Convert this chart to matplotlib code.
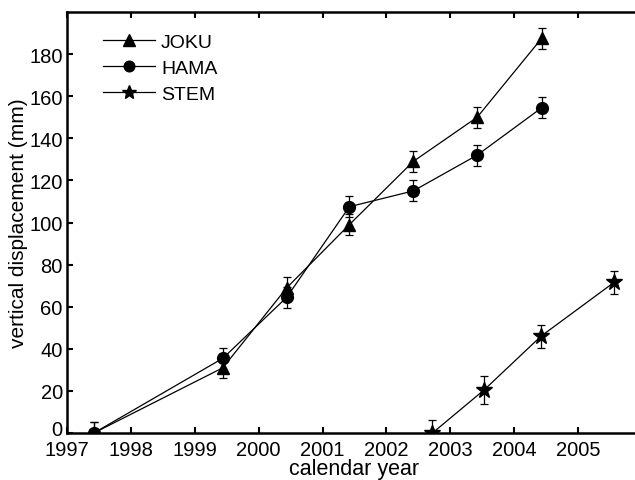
import matplotlib
matplotlib.use("Agg")
import matplotlib.pyplot as plt
from matplotlib.transforms import ScaledTranslation

plt.rcParams['font.family'] = ['Liberation Sans', 'DejaVu Sans']

# survey epochs (decimal year) and vertical displacement (mm) per station
joku_year = [1997.42, 1999.44, 2000.44, 2001.42, 2002.42, 2003.42, 2004.43]
joku_disp = [0, 31, 69, 99, 129, 150, 187.5]
joku_err = [5, 5, 5, 5, 5, 5, 5]

hama_year = [1997.42, 1999.44, 2000.44, 2001.42, 2002.42, 2003.42, 2004.43]
hama_disp = [0, 35.5, 64.5, 107.5, 115, 132, 154.5]
hama_err = [5, 5, 5, 5, 5, 5, 5]

stem_year = [2002.72, 2003.53, 2004.42, 2005.56]
stem_disp = [0, 20.5, 46, 71.5]
stem_err = [6, 6.5, 5.5, 5.5]

year_ticks = [1997, 1998, 1999, 2000, 2001, 2002, 2003, 2004, 2005]
disp_ticks = [0, 20, 40, 60, 80, 100, 120, 140, 160, 180]

fig = plt.figure(figsize=(6.35, 4.81), dpi=100)
ax = fig.add_axes([67 / 635, 47 / 481, 575 / 635, 421 / 481])

err_kw = dict(color='black', lw=0.9, capsize=3.2, elinewidth=0.9, capthick=0.9)
ax.errorbar(hama_year, hama_disp, yerr=hama_err, marker='o', ms=8.5, label='HAMA', zorder=2, **err_kw)
ax.errorbar(joku_year, joku_disp, yerr=joku_err, marker='^', ms=9, label='JOKU', zorder=3, **err_kw)
ax.errorbar(stem_year, stem_disp, yerr=stem_err, marker='*', ms=12, label='STEM', zorder=3, **err_kw)

ax.set_xlim(1997, 2006)
ax.set_ylim(0, 200)
ax.set_xticks(year_ticks)
ax.set_yticks(disp_ticks)
ax.tick_params(direction='in', length=4, width=1.5, labelsize=14.5, top=True, right=False)
ax.tick_params(axis='y', pad=3)
ax.tick_params(axis='x', pad=5)
for s in ax.spines.values():
    s.set_linewidth(1.8)
ax.spines['right'].set_visible(False)

# the "0" label sits a bit higher, clear of "1997"
zero_lbl = ax.yaxis.get_major_ticks()[0].label1
zero_lbl.set_transform(zero_lbl.get_transform() + ScaledTranslation(0, 5 / 100, fig.dpi_scale_trans))

ax.set_xlabel('calendar year', fontsize=15.5, labelpad=-1)
ax.set_ylabel('vertical displacement (mm)', fontsize=15, labelpad=1)

# legend in JOKU, HAMA, STEM order, line+marker only
handles, labels = ax.get_legend_handles_labels()
hmap = dict(zip(labels, [h[0] for h in handles]))
order = ['JOKU', 'HAMA', 'STEM']
ax.legend([hmap[k] for k in order], order, loc='upper left', bbox_to_anchor=(0.045, 0.972),
          frameon=False, fontsize=14, handlelength=2.7, handletextpad=0.3,
          labelspacing=0.42, borderpad=0, markerscale=0.9)

fig.savefig('out.png', dpi=100)
